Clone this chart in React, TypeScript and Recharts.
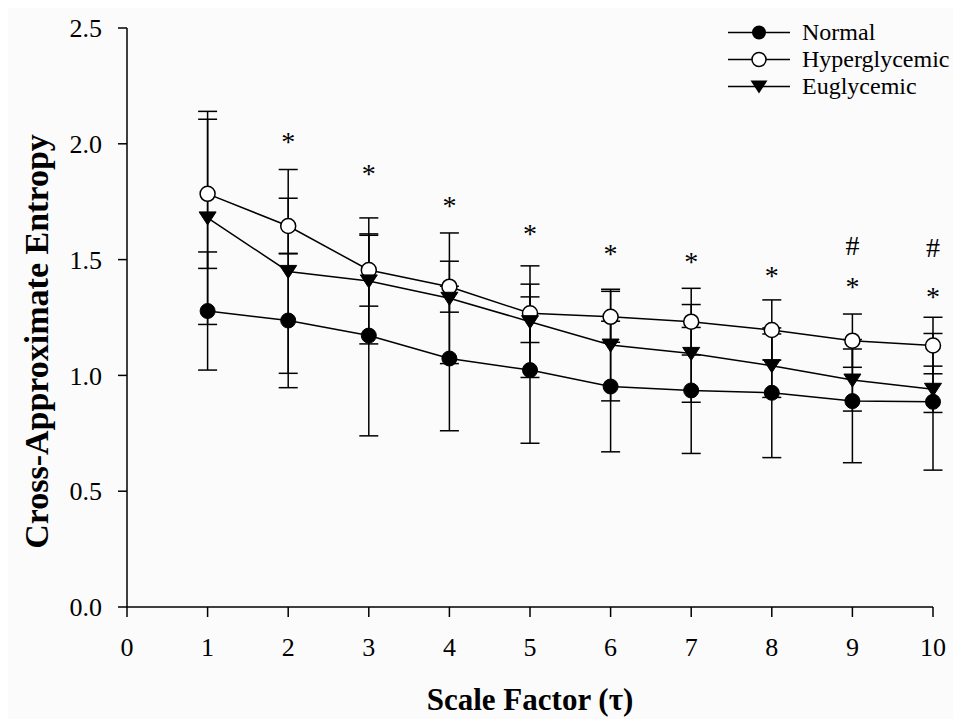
import { ComposedChart, Line, XAxis, YAxis, ErrorBar, Legend, Label } from "recharts";

const scaleFactors = [1, 2, 3, 4, 5, 6, 7, 8, 9, 10];

const normalMean = [1.278, 1.237, 1.172, 1.073, 1.023, 0.952, 0.935, 0.925, 0.889, 0.886];
const normalSd = [0.255, 0.29, 0.433, 0.312, 0.316, 0.282, 0.272, 0.28, 0.266, 0.295];

const hyperMean = [1.784, 1.645, 1.455, 1.383, 1.268, 1.253, 1.232, 1.196, 1.15, 1.129];
const hyperSd = [0.322, 0.12, 0.156, 0.11, 0.126, 0.11, 0.144, 0.13, 0.115, 0.122];

const euglyMean = [1.68, 1.449, 1.408, 1.333, 1.232, 1.131, 1.095, 1.042, 0.98, 0.94];
const euglySd = [0.46, 0.44, 0.272, 0.282, 0.241, 0.241, 0.211, 0.137, 0.134, 0.1];

// where the significance marks sit (null = no mark)
const starPos = [null, 2.026, 1.887, 1.75, 1.628, 1.541, 1.508, 1.448, 1.398, 1.354];
const hashPos = [null, null, null, null, null, null, null, null, 1.559, 1.549];

const seriesKeys = ["normal", "hyper", "eugly"];
const seriesNames = ["Normal", "Hyperglycemic", "Euglycemic"];

const xTicks = [0, 1, 2, 3, 4, 5, 6, 7, 8, 9, 10];
const yTicks = [0, 0.5, 1.0, 1.5, 2.0, 2.5];

const data = scaleFactors.map((tau, i) => ({
  tau,
  normal: normalMean[i],
  normalSd: normalSd[i],
  hyper: hyperMean[i],
  hyperSd: hyperSd[i],
  eugly: euglyMean[i],
  euglySd: euglySd[i],
  star: starPos[i],
  hash: hashPos[i],
}));

const FONT = '"Liberation Serif", "Times New Roman", serif';

const FilledDot = (props: any) => {
  const { cx, cy, index } = props;
  if (cx == null || cy == null) return <g key={`n${index}`} />;
  return <circle key={`n${index}`} cx={cx} cy={cy} r={7.5} fill="#000" stroke="#000" strokeWidth={1} />;
};

const OpenDot = (props: any) => {
  const { cx, cy, index } = props;
  if (cx == null || cy == null) return <g key={`h${index}`} />;
  return <circle key={`h${index}`} cx={cx} cy={cy} r={7.5} fill="#fff" stroke="#000" strokeWidth={1.5} />;
};

const TriDot = (props: any) => {
  const { cx, cy, index } = props;
  if (cx == null || cy == null) return <g key={`e${index}`} />;
  return (
    <polygon
      key={`e${index}`}
      points={`${cx - 8.5},${cy - 6} ${cx + 8.5},${cy - 6} ${cx},${cy + 7}`}
      fill="#000"
      stroke="#000"
      strokeWidth={1}
    />
  );
};

const markText = (glyph: string, size: number, lift: number) => (props: any) => {
  const { cx, cy, index } = props;
  if (cx == null || cy == null) return <g key={`${glyph}${index}`} />;
  return (
    <text key={`${glyph}${index}`} x={cx} y={cy + lift} textAnchor="middle" fontFamily={FONT} fontSize={size} fill="#000">
      {glyph}
    </text>
  );
};

const LegendIcon = ({ kind }: { kind: string }) => (
  <svg width={62} height={27} style={{ display: "block" }}>
    <line x1={0} y1={13.5} x2={62} y2={13.5} stroke="#000" strokeWidth={1.5} />
    {kind === "normal" && <circle cx={31} cy={13.5} r={7} fill="#000" />}
    {kind === "hyper" && <circle cx={31} cy={13.5} r={7} fill="#fff" stroke="#000" strokeWidth={1.5} />}
    {kind === "eugly" && <polygon points="22.5,7.5 39.5,7.5 31,20.5" fill="#000" />}
  </svg>
);

const LegendBox = () => (
  <div style={{ fontFamily: FONT, fontSize: 24, color: "#000" }}>
    {seriesKeys.map((k, i) => (
      <div key={k} style={{ display: "flex", alignItems: "center", height: 27 }}>
        <LegendIcon kind={k} />
        <span style={{ marginLeft: 12, lineHeight: "27px", whiteSpace: "nowrap" }}>{seriesNames[i]}</span>
      </div>
    ))}
  </div>
);

export default function App() {
  return (
    <div style={{ width: 953, height: 711, background: "#fbfbfb" }}>
      <ComposedChart
        width={953}
        height={711}
        data={data}
        margin={{ top: 20, right: 28, bottom: 0, left: 0 }}
      >
        <XAxis
          dataKey="tau"
          type="number"
          domain={[0, 10]}
          ticks={xTicks}
          allowDecimals={false}
          height={112}
          stroke="#000"
          strokeWidth={1.5}
          tickSize={10}
          tickMargin={21}
          tick={{ fill: "#000", fontSize: 26, fontFamily: FONT }}
        >
          <Label
            content={(p: any) => {
              const vb = p.viewBox;
              return (
                <text
                  x={vb.x + vb.width / 2}
                  y={vb.y + 103}
                  textAnchor="middle"
                  fontFamily={FONT}
                  fontWeight="bold"
                  fontSize={31}
                  fill="#000"
                >
                  Scale Factor (τ)
                </text>
              );
            }}
          />
        </XAxis>
        <YAxis
          type="number"
          domain={[0, 2.5]}
          ticks={yTicks}
          width={119}
          stroke="#000"
          strokeWidth={1.5}
          tickSize={9}
          tickMargin={16}
          tickFormatter={(v: number) => v.toFixed(1)}
          tick={{ fill: "#000", fontSize: 26, fontFamily: FONT }}
        >
          <Label
            content={(p: any) => {
              const vb = p.viewBox;
              const cx = vb.x + 28;
              const cy = vb.y + vb.height / 2 + 24;
              return (
                <text
                  x={cx}
                  y={cy}
                  transform={`rotate(-90 ${cx} ${cy})`}
                  textAnchor="middle"
                  dominantBaseline="central"
                  fontFamily={FONT}
                  fontWeight="bold"
                  fontSize={34}
                  fill="#000"
                >
                  Cross-Approximate Entropy
                </text>
              );
            }}
          />
        </YAxis>
        <Legend
          layout="vertical"
          align="center"
          verticalAlign="middle"
          wrapperStyle={{ top: 11, left: 720, width: 230 }}
          content={<LegendBox />}
        />
        <Line
          dataKey="normal"
          name="Normal"
          stroke="#000"
          strokeWidth={1.5}
          dot={FilledDot}
          activeDot={false}
          isAnimationActive={false}
        >
          <ErrorBar dataKey="normalSd" direction="y" width={9.5} stroke="#000" strokeWidth={1.5} />
        </Line>
        <Line
          dataKey="hyper"
          name="Hyperglycemic"
          stroke="#000"
          strokeWidth={1.5}
          dot={OpenDot}
          activeDot={false}
          isAnimationActive={false}
        >
          <ErrorBar dataKey="hyperSd" direction="y" width={9.5} stroke="#000" strokeWidth={1.5} />
        </Line>
        <Line
          dataKey="eugly"
          name="Euglycemic"
          stroke="#000"
          strokeWidth={1.5}
          dot={TriDot}
          activeDot={false}
          isAnimationActive={false}
        >
          <ErrorBar dataKey="euglySd" direction="y" width={9.5} stroke="#000" strokeWidth={1.5} />
        </Line>
        <Line
          dataKey="star"
          stroke="none"
          legendType="none"
          dot={markText("*", 28, 13)}
          activeDot={false}
          isAnimationActive={false}
        />
        <Line
          dataKey="hash"
          stroke="none"
          legendType="none"
          dot={markText("#", 28, 9)}
          activeDot={false}
          isAnimationActive={false}
        />
      </ComposedChart>
    </div>
  );
}
